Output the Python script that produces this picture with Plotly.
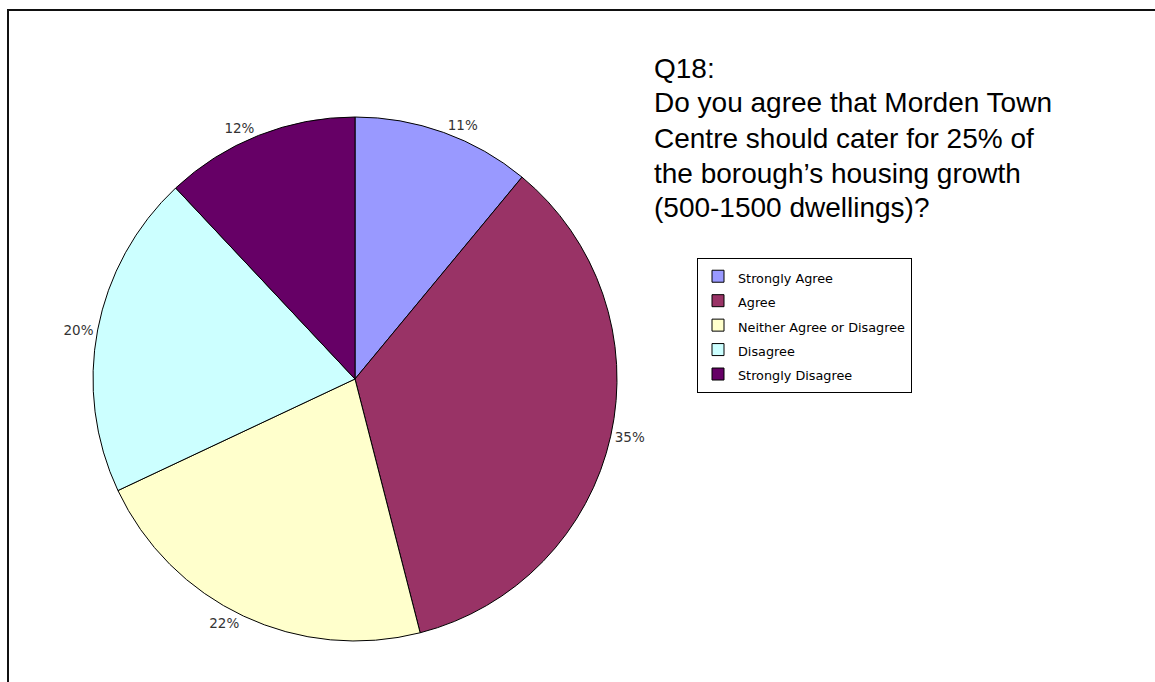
import plotly.graph_objects as go

# Survey responses (Q18)
categories = ["Strongly Agree", "Agree", "Neither Agree or Disagree", "Disagree", "Strongly Disagree"]
shares = [11, 35, 22, 20, 12]
slice_colors = ["#9999FF", "#993366", "#FFFFCC", "#CCFFFF", "#660066"]

title_lines = [
    "Q18:",
    "Do you agree that Morden Town",
    "Centre should cater for 25% of",
    "the borough\u2019s housing growth",
    "(500-1500 dwellings)?",
]

W, H = 1155, 682


def px_x(x):
    return x / W


def px_y(y):
    return 1 - y / H


# Pie geometry in pixels
cx, cy, r = 355, 379, 262

# legend entries use a smaller inline size so rows keep a roomy spacing
legend_labels = ['<span style="font-size:12.8px">%s</span>' % c for c in categories]

fig = go.Figure(
    go.Pie(
        labels=legend_labels,
        values=shares,
        marker=dict(colors=slice_colors, line=dict(color="#000000", width=1)),
        sort=False,
        direction="clockwise",
        rotation=0,
        textinfo="percent",
        textposition="outside",
        outsidetextfont=dict(family="DejaVu Sans", size=13.5, color="#333333"),
        domain=dict(x=[px_x(cx - r), px_x(cx + r)], y=[px_y(cy + r), px_y(cy - r)]),
        hovertext=categories,
        hoverinfo="text+percent",
    )
)

annotations = []
line_y = [68, 103, 138, 173, 208]
for text, y in zip(title_lines, line_y):
    annotations.append(
        dict(
            text=text,
            x=px_x(652),
            y=px_y(y),
            xref="paper",
            yref="paper",
            xanchor="left",
            yanchor="middle",
            showarrow=False,
            font=dict(family="Liberation Sans, Arial", size=28, color="#000000"),
        )
    )

fig.update_layout(
    width=W,
    height=H,
    margin=dict(l=0, r=0, t=0, b=0),
    paper_bgcolor="#FFFFFF",
    plot_bgcolor="#FFFFFF",
    showlegend=True,
    legend=dict(
        x=px_x(697),
        y=px_y(258),
        xanchor="left",
        yanchor="top",
        bgcolor="#FFFFFF",
        bordercolor="#000000",
        borderwidth=1,
        font=dict(family="DejaVu Sans", size=16.5, color="#000000"),
        itemwidth=30,
        tracegroupgap=0,
    ),
    annotations=annotations,
    shapes=[
        dict(
            type="rect",
            xref="paper",
            yref="paper",
            x0=px_x(8),
            y0=-0.05,
            x1=1.05,
            y1=px_y(10),
            line=dict(color="#111111", width=2),
            layer="above",
        )
    ],
)

fig.write_html("out.html")
